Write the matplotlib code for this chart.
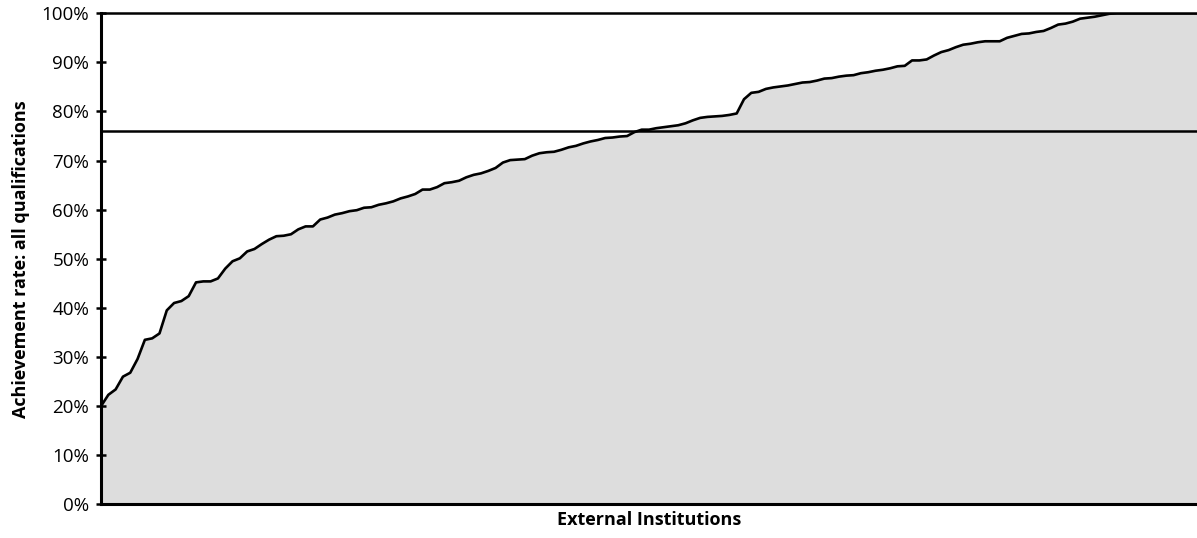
import matplotlib.pyplot as plt
import numpy as np

plt.rcParams['font.family'] = ['Open Sans', 'DejaVu Sans']

# achievement rate (%) of each external institution, sorted ascending
rates = [20.0, 22.3, 23.4, 26.0, 26.8, 29.6, 33.5, 33.8, 34.8, 39.5,
         41.0, 41.4, 42.4, 45.2, 45.4, 45.4, 46.0, 48.0, 49.5, 50.1,
         51.5, 52.0, 53.0, 53.9, 54.6, 54.7, 55.0, 56.0, 56.6, 56.6,
         58.0, 58.4, 59.0, 59.3, 59.7, 59.9, 60.4, 60.5, 61.0, 61.3,
         61.7, 62.3, 62.7, 63.2, 64.1, 64.1, 64.6, 65.4, 65.6, 65.9,
         66.6, 67.1, 67.4, 67.9, 68.5, 69.6, 70.1, 70.2, 70.3, 71.0,
         71.5, 71.7, 71.8, 72.2, 72.7, 73.0, 73.5, 73.9, 74.2, 74.6,
         74.7, 74.9, 75.0, 75.8, 76.3, 76.3, 76.6, 76.8, 77.0, 77.2,
         77.6, 78.2, 78.7, 78.9, 79.0, 79.1, 79.3, 79.6, 82.5, 83.8,
         84.0, 84.6, 84.9, 85.1, 85.3, 85.6, 85.9, 86.0, 86.3, 86.7,
         86.8, 87.1, 87.3, 87.4, 87.8, 88.0, 88.3, 88.5, 88.8, 89.2,
         89.3, 90.4, 90.4, 90.6, 91.4, 92.1, 92.5, 93.1, 93.6, 93.8,
         94.1, 94.3, 94.3, 94.3, 95.0, 95.4, 95.8, 95.9, 96.2, 96.4,
         97.0, 97.7, 97.9, 98.3, 98.9, 99.1, 99.3, 99.6, 99.9, 100.0,
         100.0, 100.0, 100.0, 100.0, 100.0, 100.0, 100.0, 100.0, 100.0, 100.0,
         100.0]
national_rate = 76.0

y = np.array(rates) / 100
x = np.arange(len(y))

fig = plt.figure(figsize=(11.97, 5.38), dpi=100)
ax = fig.add_axes([0.0844, 0.0626, 0.9156, 0.9127])

ax.fill_between(x, 0, y, color='#dddddd', lw=0)
ax.plot(x, y, color='black', lw=1.9, solid_joinstyle='round')
ax.axhline(national_rate / 100, color='black', lw=1.8)

ax.set_xlim(0, len(y) - 1)
ax.set_ylim(0, 1)
ax.set_yticks(np.arange(0, 1.01, 0.1))
ax.set_yticklabels(['%d%%' % v for v in range(0, 101, 10)], fontsize=13.5)
ax.set_xticks([])
ax.tick_params(axis='y', direction='inout', length=7, width=1.8, pad=5)

for s in ['left', 'bottom']:
    ax.spines[s].set_linewidth(2.2)
ax.spines['top'].set_linewidth(1.8)
ax.spines['right'].set_visible(False)

ax.set_ylabel('Achievement rate: all qualifications', fontsize=13,
              fontweight='bold', labelpad=8)
ax.set_xlabel('External Institutions', fontsize=13, fontweight='bold',
              labelpad=5)

fig.savefig('out.png', dpi=100)
